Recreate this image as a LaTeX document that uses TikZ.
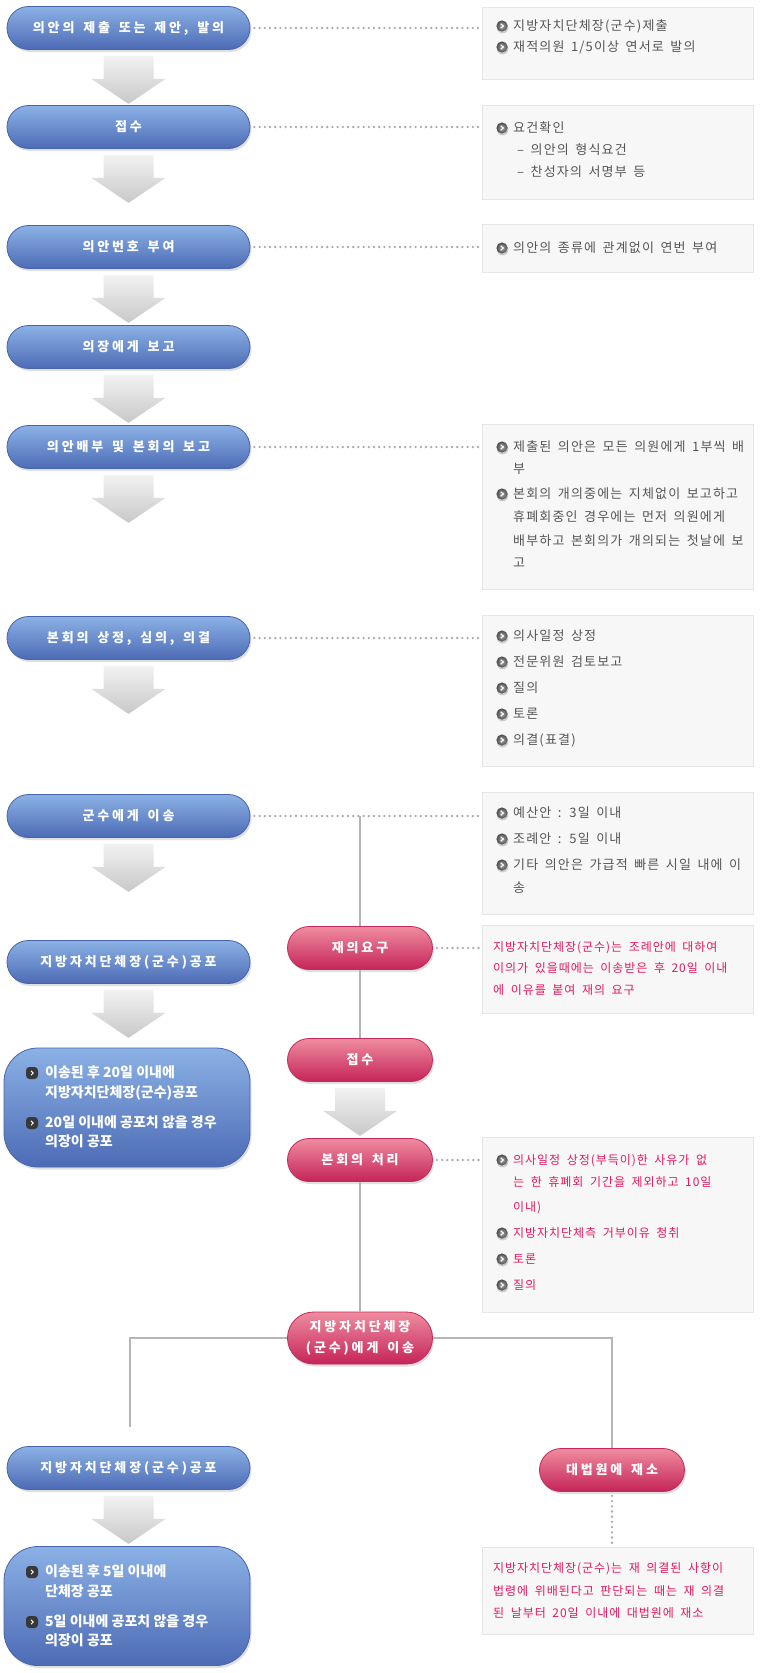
\documentclass[tikz,border=0pt]{standalone}
\usepackage{fontspec}
\setmainfont{Noto Sans CJK KR}
\newfontfamily\pillfont[LetterSpace=22,WordSpace=1.5]{Noto Sans CJK KR}
\newfontfamily\grayfont[LetterSpace=9,WordSpace=1.6]{Noto Sans CJK KR}
\newfontfamily\redfont[LetterSpace=8,WordSpace=1.8]{Noto Sans CJK KR}
\newfontfamily\wfont{Noto Sans CJK KR}
\usetikzlibrary{shapes.misc,shadows}

\definecolor{pillbluetop}{HTML}{8BB1E5}
\definecolor{pillbluebot}{HTML}{4D6BB5}
\definecolor{pillblueedge}{HTML}{4764AE}
\definecolor{pillredtop}{HTML}{EF8CA0}
\definecolor{pillredbot}{HTML}{C52458}
\definecolor{pillrededge}{HTML}{C12A59}
\definecolor{boxfill}{HTML}{F7F7F7}
\definecolor{boxedge}{HTML}{E5E5E5}
\definecolor{graytxt}{HTML}{555555}
\definecolor{redtxt}{HTML}{E8175F}
\definecolor{dotgray}{HTML}{ABABAB}
\definecolor{linegray}{HTML}{B5B5B5}
\definecolor{arrowtop}{HTML}{F7F7F7}
\definecolor{arrowbot}{HTML}{C8C8C8}

\tikzset{
  bpill/.style={rounded rectangle, minimum width=243, minimum height=43, inner sep=0,
    draw=pillblueedge, line width=0.8, top color=pillbluetop, bottom color=pillbluebot,
    drop shadow={shadow xshift=1.5pt, shadow yshift=-2.5pt, opacity=.25},
    text=white, font=\pillfont\bfseries\fontsize{13}{21}\selectfont},
  rpill/.style={bpill, minimum width=145, draw=pillrededge,
    top color=pillredtop, bottom color=pillredbot},
  bbox/.style={rectangle, rounded corners=34, minimum width=246, minimum height=119,
    draw=pillblueedge, line width=0.8, top color=pillbluetop, bottom color=pillbluebot,
    drop shadow={shadow xshift=1.5pt, shadow yshift=-2.5pt, opacity=.25}},
  infobox/.style={rectangle, draw=boxedge, fill=boxfill, minimum width=271,
    anchor=north west, inner sep=0},
  fatarrow/.style={top color=arrowtop, bottom color=arrowbot, draw=none},
  dotline/.style={draw=dotgray, line width=2.6, line cap=round,
    dash pattern=on 0pt off 5.2pt, shorten <=4pt, shorten >=3pt},
  gline/.style={draw=linegray, line width=2},
  gtxt/.style={anchor=west, inner sep=0, text height=11, text depth=1.5,
    text=graytxt, font=\grayfont\fontsize{13}{15}\selectfont},
  rtxt/.style={gtxt, text=redtxt, font=\redfont\fontsize{12}{14}\selectfont},
  wtxt/.style={gtxt, text=white, font=\wfont\bfseries\fontsize{14}{16}\selectfont},
  bul/.pic={
    \fill[black!20] (0.6,1.6) circle (5.8);
    \shade[inner color=black!35, outer color=black!70] (0,0) circle (5.6);
    \draw[white, line width=1.2pt] (-1.3,-2.3) -- (1.2,0) -- (-1.3,2.3);
  },
  sqbul/.pic={
    \fill[black!78, rounded corners=3.5] (-6,-6) rectangle (6,6);
    \draw[white, line width=1pt] (-1,-2.2) -- (1.2,0) -- (-1,2.2);
  },
}

\begin{document}
\begin{tikzpicture}[x=1pt,y=-1pt]
  \fill[white] (0,0) rectangle (760,1673);
  \useasboundingbox (0,0) rectangle (760,1673);

  % main column
  \node[bpill] (p1) at (128.5,28) {의안의 제출 또는 제안, 발의};
  \node[bpill] (p2) at (128.5,127) {접수};
  \node[bpill] (p3) at (128.5,247) {의안번호 부여};
  \node[bpill] (p4) at (128.5,347) {의장에게 보고};
  \node[bpill] (p5) at (128.5,447) {의안배부 및 본회의 보고};
  \node[bpill] (p6) at (128.5,638) {본회의 상정, 심의, 의결};
  \node[bpill] (p7) at (128.5,816) {군수에게 이송};
  \node[bpill] (p8) at (128.5,962) {지방자치단체장(군수)공포};
  \node[bbox] (k1) at (127,1107.5) {};
  \node[bpill] (p9) at (128.5,1468) {지방자치단체장(군수)공포};
  \node[bbox] (k2) at (127,1606) {};

  % reconsideration column
  \node[rpill] (r1) at (360,948) {재의요구};
  \node[rpill] (r2) at (360,1060) {접수};
  \node[rpill] (r3) at (360,1160) {본회의 처리};
  \node[rpill, minimum height=52, align=center] (r4) at (360,1338) {지방자치단체장\\(군수)에게 이송};
  \node[rpill] (r5) at (612,1470) {대법원에 재소};

  % info boxes
  \node[infobox, minimum height=72] (i1) at (482,7) {};
  \node[infobox, minimum height=94] (i2) at (482,105) {};
  \node[infobox, minimum height=48] (i3) at (482,224) {};
  \node[infobox, minimum height=165] (i4) at (482,424) {};
  \node[infobox, minimum height=151] (i5) at (482,615) {};
  \node[infobox, minimum height=122] (i6) at (482,792) {};
  \node[infobox, minimum height=88] (i7) at (482,925) {};
  \node[infobox, minimum height=175] (i8) at (482,1137) {};
  \node[infobox, minimum height=87] (i9) at (482,1547) {};

  % fat arrows
  \foreach \s in {p1,p2,p3,p4,p5,p6,p7,p8,p9,r2}
    \shade[fatarrow] (\s.south) ++(-25,6) -- ++(50,0) -- ++(0,23) -- ++(12,0)
      -- ++(-37,25) -- ++(-37,-25) -- ++(12,0) -- cycle;

  % connectors
  \foreach \a/\b in {p1/i1,p2/i2,p3/i3,p5/i4,p6/i5,p7/i6,r1/i7,r3/i8}
    \draw[dotline] (\a.east) -- (\a.east -| \b.west);
  \draw[gline] (p7.east -| r1.north) -- (r1.north);
  \draw[gline] (r1.south) -- (r2.north);
  \draw[gline] (r3.south) -- (r4.north);
  \coordinate (lend) at (130,1427);
  \draw[gline] (r4.west) -| (lend);
  \draw[gline] (r4.east) -| (r5.north);
  \draw[dotline] (r5.south) -- (r5.south |- i9.north);

  % box texts
  \node[gtxt] (a1) at (513,26) {지방자치단체장(군수)제출};
  \node[gtxt] (a2) at (513,47) {재적의원 1/5이상 연서로 발의};
  \node[gtxt] (b1) at (513,128) {요건확인};
  \node[gtxt] (b2) at (517,150) {– 의안의 형식요건};
  \node[gtxt] (b3) at (517,172) {– 찬성자의 서명부 등};
  \node[gtxt] (c1) at (513,248) {의안의 종류에 관계없이 연번 부여};
  \node[gtxt] (d1) at (513,447) {제출된 의안은 모든 의원에게 1부씩 배};
  \node[gtxt] (d2) at (513,469) {부};
  \node[gtxt] (d3) at (513,494) {본회의 개의중에는 지체없이 보고하고};
  \node[gtxt] (d4) at (513,517) {휴폐회중인 경우에는 먼저 의원에게};
  \node[gtxt] (d5) at (513,541) {배부하고 본회의가 개의되는 첫날에 보};
  \node[gtxt] (d6) at (513,563) {고};
  \node[gtxt] (e1) at (513,636) {의사일정 상정};
  \node[gtxt] (e2) at (513,662) {전문위원 검토보고};
  \node[gtxt] (e3) at (513,688) {질의};
  \node[gtxt] (e4) at (513,714) {토론};
  \node[gtxt] (e5) at (513,740) {의결(표결)};
  \node[gtxt] (f1) at (513,813) {예산안 : 3일 이내};
  \node[gtxt] (f2) at (513,839) {조례안 : 5일 이내};
  \node[gtxt] (f3) at (513,865) {기타 의안은 가급적 빠른 시일 내에 이};
  \node[gtxt] (f4) at (513,888) {송};
  \node[rtxt] (g1) at (493,947) {지방자치단체장(군수)는 조례안에 대하여};
  \node[rtxt] (g2) at (493,968) {이의가 있을때에는 이송받은 후 20일 이내};
  \node[rtxt] (g3) at (493,990) {에 이유를 붙여 재의 요구};
  \node[rtxt] (h1) at (513,1160) {의사일정 상정(부득이)한 사유가 없};
  \node[rtxt] (h2) at (513,1182) {는 한 휴폐회 기간을 제외하고 10일};
  \node[rtxt] (h3) at (513,1207) {이내)};
  \node[rtxt] (h4) at (513,1233) {지방자치단체측 거부이유 청취};
  \node[rtxt] (h5) at (513,1259) {토론};
  \node[rtxt] (h6) at (513,1285) {질의};
  \node[rtxt] (j1) at (493,1568) {지방자치단체장(군수)는 재 의결된 사항이};
  \node[rtxt] (j2) at (493,1591) {법령에 위배된다고 판단되는 때는 재 의결};
  \node[rtxt] (j3) at (493,1613) {된 날부터 20일 이내에 대법원에 재소};
  \node[wtxt] (m1) at (45,1073) {이송된 후 20일 이내에};
  \node[wtxt] (m2) at (45,1093) {지방자치단체장(군수)공포};
  \node[wtxt] (m3) at (45,1123) {20일 이내에 공포치 않을 경우};
  \node[wtxt] (m4) at (45,1142) {의장이 공포};
  \node[wtxt] (n1) at (45,1572) {이송된 후 5일 이내에};
  \node[wtxt] (n2) at (45,1592) {단체장 공포};
  \node[wtxt] (n3) at (45,1622) {5일 이내에 공포치 않을 경우};
  \node[wtxt] (n4) at (45,1641) {의장이 공포};

  % bullets
  \foreach \y in {26,47,128,248,447,494,636,662,688,714,740,813,839,865,1160,1233,1259,1285}
    \pic at (502,\y) {bul};
  \foreach \y in {1073,1123,1572,1622}
    \pic at (32,\y) {sqbul};
\end{tikzpicture}
\end{document}
